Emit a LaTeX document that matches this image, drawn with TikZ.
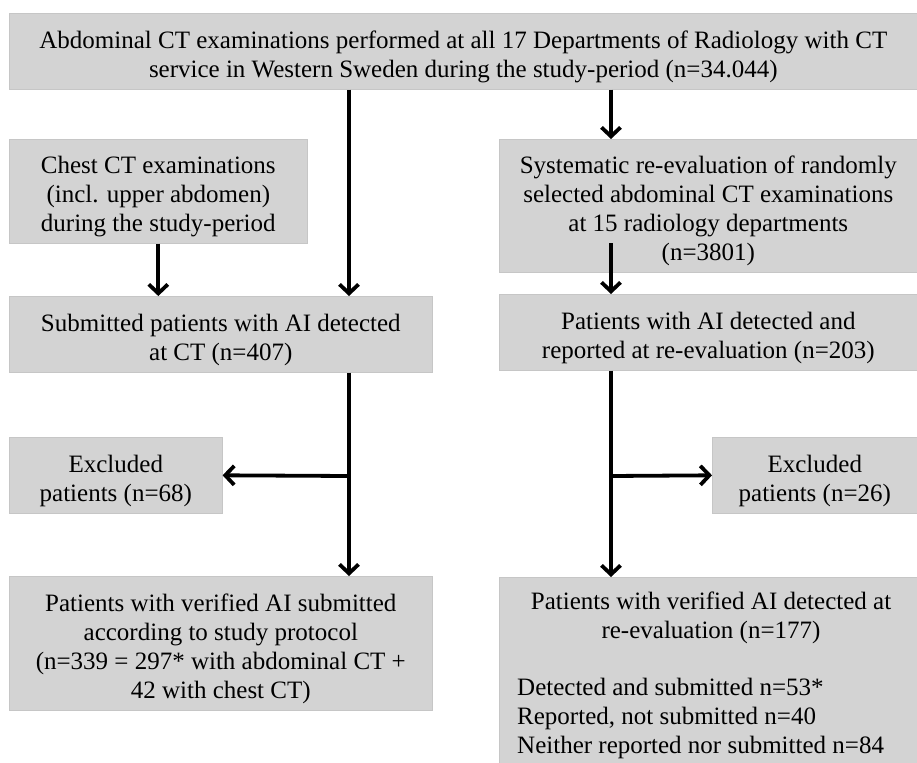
\documentclass[tikz,border=0pt]{standalone}
\usepackage{fontspec}
\setmainfont{Liberation Serif}
\usetikzlibrary{arrows.meta,calc}
\definecolor{boxgray}{RGB}{211,211,211}
\definecolor{boxedge}{RGB}{198,198,198}
\newcommand\firststrut{\rule{0pt}{28pt}}
\begin{document}
\begin{tikzpicture}[x=1pt,y=-1pt,
  box/.style={fill=boxgray, draw=boxedge, line width=0.6pt, anchor=north west,
    inner sep=0pt, align=center, font=\fontsize{25}{29}\selectfont},
  plainbox/.style={fill=boxgray, draw=boxedge, line width=0.6pt, anchor=north west, inner sep=0pt},
  txt/.style={inner sep=0pt, font=\fontsize{25}{29}\selectfont},
  arr/.style={line width=3.8pt, -{Straight Barb[length=9pt,width=19pt]}}]
\useasboundingbox (0,0) rectangle (917,762);

\node[box, minimum width=908pt, minimum height=76pt] (top) at (9,13)
  {\firststrut Abdominal CT examinations performed at all 17 Departments of Radiology with CT\\
   service in Western Sweden during the study-period (n=34.044)};
\node[box, minimum width=298pt, minimum height=104pt] (chest) at (9,139)
  {\firststrut Chest CT examinations\\(incl. upper abdomen)\\during the study-period};
\node[box, minimum width=418pt, minimum height=133pt] (sys) at (499,139)
  {\firststrut Systematic re-evaluation of randomly\\selected abdominal CT examinations\\at 15 radiology departments\\(n=3801)};
\node[box, minimum width=423pt, minimum height=76pt] (sub) at (9,296)
  {\firststrut Submitted patients with AI detected\\at CT (n=407)};
\node[box, minimum width=418pt, minimum height=76pt] (pat) at (499,294)
  {\firststrut Patients with AI detected and\\reported at re-evaluation (n=203)};
\node[box, minimum width=213pt, minimum height=76pt] (exl) at (9,437)
  {\firststrut Excluded\\patients (n=68)};
\node[box, minimum width=205pt, minimum height=76pt] (exr) at (712,437)
  {\firststrut Excluded\\patients (n=26)};
\node[box, minimum width=423pt, minimum height=134pt] (ver) at (9,576)
  {\firststrut Patients with verified AI submitted\\according to study protocol\\(n=339 = 297* with abdominal CT +\\42 with chest CT)};
\node[plainbox, minimum width=418pt, minimum height=186pt] (fin) at (499,577) {};
\node[txt, anchor=base] (fa) at (711,609) {Patients with verified AI detected at};
\node[txt, anchor=base] (fb) at (711,638) {re-evaluation (n=177)};
\node[txt, anchor=base west] (fc) at (517,695) {Detected and submitted n=53*};
\node[txt, anchor=base west] (fd) at (517,724) {Reported, not submitted n=40};
\node[txt, anchor=base west] (fe) at (517,753) {Neither reported nor submitted n=84};

\coordinate (jl) at (349,476);
\coordinate (jr) at (611,476);
\coordinate (sysin) at (611,243);

\draw[arr] (top.south -| jl) -- (sub.north -| jl);
\draw[arr] (top.south -| jr) -- (sys.north -| jr);
\draw[arr] (chest.south) -- (sub.north -| chest.south);
\draw[arr] (sysin) -- (pat.north -| jr);
\draw[arr] (sub.south -| jl) -- (ver.north -| jl);
\draw[arr] (jl) -- (exl.east);
\draw[arr] (pat.south -| jr) -- (fin.north -| jr);
\draw[arr] (jr) -- (exr.west);
\end{tikzpicture}
\end{document}
